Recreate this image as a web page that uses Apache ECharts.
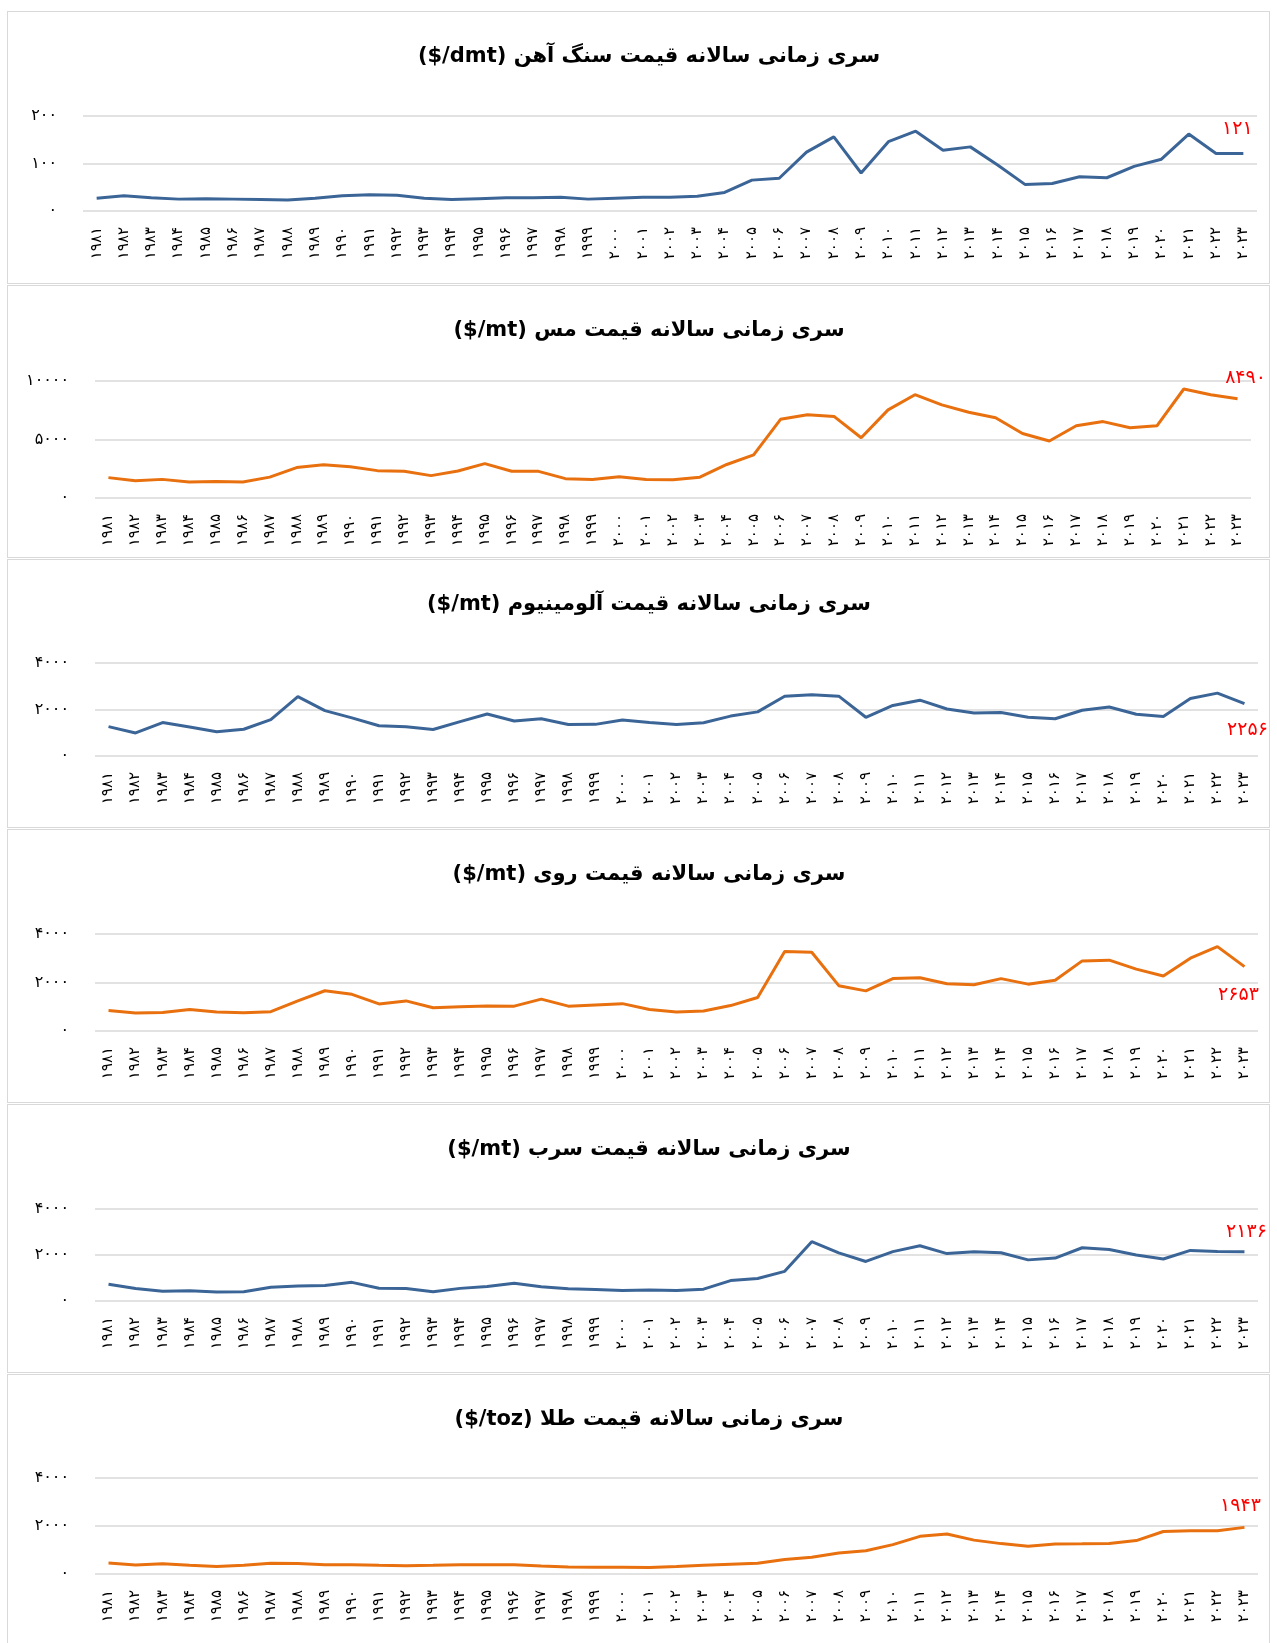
<!DOCTYPE html>
<html>
<head>
<meta charset="utf-8">
<script src="https://cdn.jsdelivr.net/npm/echarts@6/dist/echarts.min.js"></script>
<style>
  html, body { margin: 0; padding: 0; background: #fff; width: 1277px; height: 1643px; overflow: hidden; }
  .panel { position: absolute; left: 7px; width: 1263px; box-sizing: border-box; border: 1px solid #d9d9d9; background: #fff; }
  .chart { position: absolute; left: 0; top: 0; right: 0; bottom: 0; }
</style>
</head>
<body>
<script>
// ---------- data ----------
const years = ['1981','1982','1983','1984','1985','1986','1987','1988','1989','1990',
               '1991','1992','1993','1994','1995','1996','1997','1998','1999','2000',
               '2001','2002','2003','2004','2005','2006','2007','2008','2009','2010',
               '2011','2012','2013','2014','2015','2016','2017','2018','2019','2020',
               '2021','2022','2023'];

const ironOre = [27,32,28,25,26,25,24,23,27,32,34,33,27,24,26,28,28,29,25,27,
                 29,29,31,39,65,69,124,156,80,146,168,128,135,97,56,58,72,70,94,109,162,121,121];
const copper = [1742,1480,1592,1377,1417,1374,1783,2602,2848,2662,2339,2281,1913,2307,2935,2289,2277,1654,1573,1813,
                1578,1560,1779,2866,3679,6722,7118,6956,5150,7535,8828,7962,7332,6863,5510,4868,6170,6530,6010,6174,9317,8822,8490];
const aluminium = [1263,992,1439,1251,1041,1150,1565,2551,1951,1639,1302,1254,1139,1477,1806,1506,1599,1357,1361,1549,
                   1444,1350,1431,1716,1898,2570,2638,2573,1665,2173,2401,2023,1847,1867,1665,1604,1968,2108,1794,1704,2473,2705,2256];
const zinc = [847,744,764,885,784,754,797,1241,1659,1513,1117,1241,961,998,1031,1025,1316,1024,1077,1128,
              886,779,828,1048,1382,3275,3250,1870,1655,2160,2194,1950,1910,2161,1932,2090,2891,2922,2550,2266,3003,3479,2653];
const lead = [727,546,426,443,391,406,596,654,672,811,558,543,406,549,631,774,624,528,502,454,
              476,453,516,887,976,1289,2580,2091,1719,2148,2401,2061,2140,2095,1788,1867,2315,2240,1997,1825,2200,2151,2136];
const gold = [460,376,424,361,317,368,447,437,381,383,362,344,360,384,384,388,331,294,279,279,
              271,310,363,409,445,604,697,872,972,1225,1569,1670,1411,1266,1160,1249,1257,1269,1392,1770,1800,1801,1943];

const titleNames = [
  'سری زمانی سالانه قیمت سنگ آهن',
  'سری زمانی سالانه قیمت مس',
  'سری زمانی سالانه قیمت آلومینیوم',
  'سری زمانی سالانه قیمت روی',
  'سری زمانی سالانه قیمت سرب',
  'سری زمانی سالانه قیمت طلا'
];
const titleUnits = ['($/dmt)', '($/mt)', '($/mt)', '($/mt)', '($/mt)', '($/toz)'];
const seriesData = [ironOre, copper, aluminium, zinc, lead, gold];
const yMax = [200, 10000, 4000, 4000, 4000, 4000];
const yInterval = [100, 5000, 2000, 2000, 2000, 2000];

// ---------- layout & style ----------
const BLUE = '#3B6597';
const ORANGE = '#E8700E';
const colors = [BLUE, ORANGE, BLUE, ORANGE, BLUE, ORANGE];
const layout = [
  { top: 11,   height: 273, grid: { left: 75, right: 12, top: 104, height: 95 },  endOffset: [-6, -24] },
  { top: 285,  height: 273, grid: { left: 87, right: 18, top: 95,  height: 117 }, endOffset: [8, -21] },
  { top: 559,  height: 269, grid: { left: 87, right: 11, top: 103, height: 93 },  endOffset: [3, 27] },
  { top: 829,  height: 274, grid: { left: 87, right: 11, top: 104, height: 97 },  endOffset: [-6, 28] },
  { top: 1104, height: 269, grid: { left: 87, right: 11, top: 104, height: 92 },  endOffset: [2, -20] },
  { top: 1374, height: 275, grid: { left: 87, right: 11, top: 103, height: 96 },  endOffset: [-4, -21] }
];
const FONT = "'DejaVu Sans', sans-serif";
const faDigits = '۰۱۲۳۴۵۶۷۸۹';
function fa(v) { return String(v).replace(/\d/g, d => faDigits[+d]); }
const LRM = '\u200E';

titleNames.forEach((name, k) => {
  const L = layout[k];
  const panel = document.createElement('div');
  panel.className = 'panel';
  panel.style.top = L.top + 'px';
  panel.style.height = L.height + 'px';
  const el = document.createElement('div');
  el.className = 'chart';
  el.setAttribute('dir', 'rtl');
  panel.appendChild(el);
  document.body.appendChild(panel);

  const title = name + ' ' + LRM + titleUnits[k] + LRM;
  const values = seriesData[k];
  const last = values.length - 1;
  const data = values.map((v, i) => i === last ? {
    value: v,
    label: {
      show: true, position: 'inside', offset: L.endOffset,
      formatter: p => fa(p.value), color: '#FF0000', fontSize: 19, fontFamily: FONT
    }
  } : v);

  const chart = echarts.init(el, null, { renderer: 'canvas' });
  chart.setOption({
    animation: false,
    backgroundColor: '#fff',
    title: {
      text: title, left: 641, top: 34, padding: 0, textAlign: 'center',
      textStyle: { fontFamily: FONT, fontSize: 21, fontWeight: 'bold', color: '#000' }
    },
    grid: L.grid,
    xAxis: {
      type: 'category', data: years, boundaryGap: true,
      axisLine: { show: false }, axisTick: { show: false },
      axisLabel: { interval: 0, rotate: 90, margin: 16, formatter: fa, fontFamily: FONT, fontSize: 15, color: '#000' }
    },
    yAxis: {
      type: 'value', min: 0, max: yMax[k], interval: yInterval[k],
      axisLine: { show: false }, axisTick: { show: false },
      splitLine: { show: true, lineStyle: { color: '#d9d9d9', width: 1.5 } },
      axisLabel: { margin: 26, formatter: fa, fontFamily: FONT, fontSize: 16, color: '#000' }
    },
    series: [{
      type: 'line', data: data,
      symbol: 'circle', symbolSize: 0, showSymbol: true, showAllSymbol: true,
      lineStyle: { color: colors[k], width: 3 },
      itemStyle: { color: colors[k] },
      emphasis: { disabled: true }
    }]
  });
});
</script>
</body>
</html>
